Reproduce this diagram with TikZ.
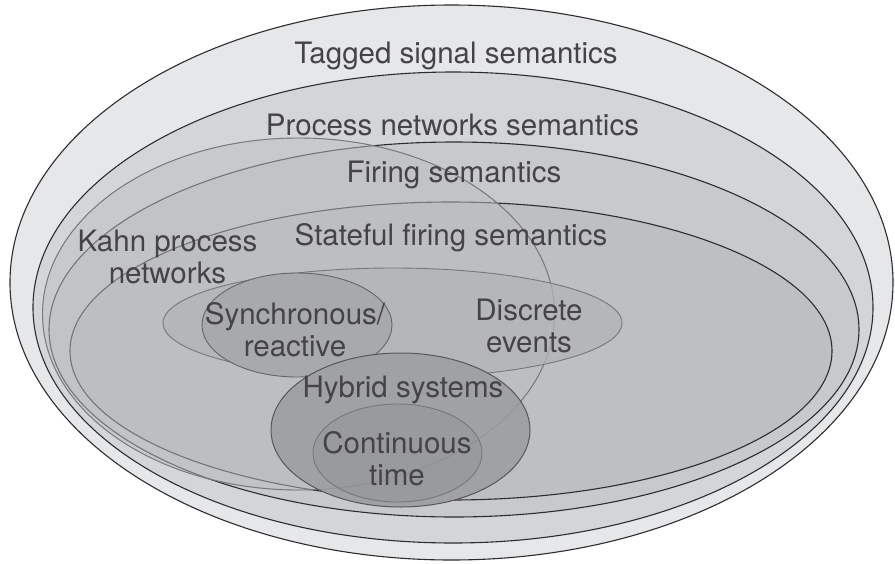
\documentclass[tikz,border=0pt]{standalone}
\usepackage{fontspec}
\setmainfont{TeX Gyre Heros}
\usetikzlibrary{shapes.geometric}

\definecolor{tssfill}{RGB}{230,231,232}
\definecolor{pnsfill}{RGB}{212,213,215}
\definecolor{fsfill}{RGB}{200,201,203}
\definecolor{sfsfill}{RGB}{190,191,193}
\definecolor{kpnfill}{RGB}{189,190,192}
\definecolor{defill}{RGB}{181,182,184}
\definecolor{srfill}{RGB}{168,169,171}
\definecolor{hsfill}{RGB}{160,161,163}
\definecolor{ctfill}{RGB}{153,154,156}
\definecolor{darkline}{RGB}{45,45,47}
\definecolor{softline}{RGB}{118,119,121}
\definecolor{inktext}{RGB}{68,68,70}

\begin{document}
\begin{tikzpicture}[x=1pt,y=-1pt,
  region/.style={ellipse,draw=darkline,line width=1.1pt,inner sep=0pt,outer sep=0pt},
  soft region/.style={region,draw=softline,line width=0.9pt},
  regiontext/.style={font=\fontsize{29.5}{32}\selectfont,text=inktext,
    align=center,anchor=base,inner sep=0pt}]
  \useasboundingbox (0,0) rectangle (895,563);

  % nested semantics
  \node[region,fill=tssfill,minimum width=883pt,minimum height=555pt] (tss) at (451.5,282.5) {};
  \node[region,fill=pnsfill,minimum width=840pt,minimum height=471pt] (pns) at (453,307.5) {};
  \node[region,fill=fsfill,minimum width=810pt,minimum height=375pt] (fs) at (454,329.5) {};
  \node[region,fill=sfsfill,minimum width=762pt,minimum height=298pt] (sfs) at (451,351) {};

  % Kahn overlaps the others
  \node[soft region,fill=kpnfill,fill opacity=0.5,
    minimum width=512pt,minimum height=352pt] (kpn) at (298.5,314) {};

  \node[soft region,fill=defill,minimum width=459pt,minimum height=110pt] (de) at (392.5,323) {};
  \node[soft region,fill=srfill,draw=softline!85!black,minimum width=190pt,minimum height=104pt] (sr) at (297,325) {};
  \node[region,fill=hsfill,draw=darkline!80!white,line width=1pt,
    minimum width=259pt,minimum height=154pt] (hs) at (400.5,430) {};
  \node[soft region,fill=ctfill,minimum width=169pt,minimum height=98pt] (ct) at (397.5,453) {};
  \node[soft region,draw opacity=0.3,minimum width=512pt,minimum height=352pt] (kpnedge) at (kpn.center) {};

  % labels (base = last line)
  \node[regiontext] (tsslbl) at (456,63) {Tagged signal semantics};
  \node[regiontext] (pnslbl) at (452.5,135) {Process networks semantics};
  \node[regiontext] (fslbl) at (454,182) {Firing semantics};
  \node[regiontext] (sfslbl) at (451,245) {Stateful firing semantics};
  \node[regiontext] (kpnlbl) at (167.5,283) {Kahn process\\networks};
  \node[regiontext] (srlbl) at (295,356) {Synchronous/\\reactive};
  \node[regiontext] (delbl) at (529,352) {Discrete\\events};
  \node[regiontext] (hslbl) at (403,397) {Hybrid systems};
  \node[regiontext] (ctlbl) at (397,485) {Continuous\\time};
\end{tikzpicture}
\end{document}
